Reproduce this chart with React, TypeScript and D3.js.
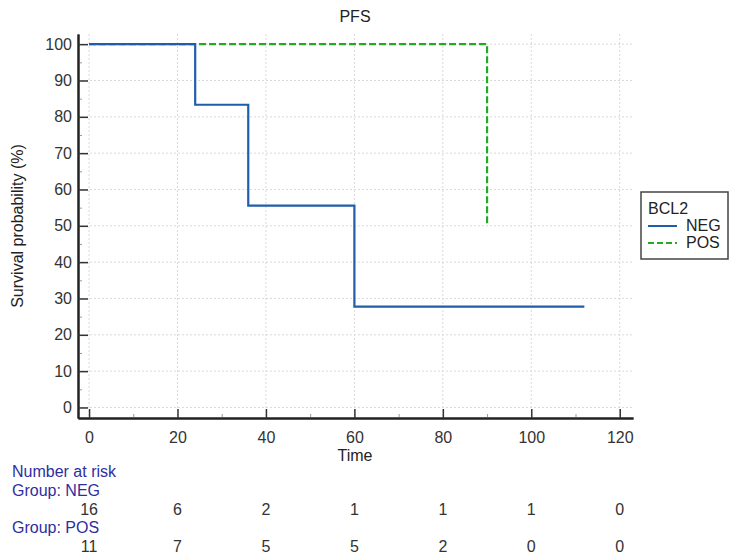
import React from "react";
import * as d3 from "d3";

// survival curves (step points)
const negTimes = [0, 24, 36, 60, 112];
const negSurv = [100, 83.33, 55.56, 27.78, 27.78];
const posTimes = [0, 90, 90];
const posSurv = [100, 100, 50];

// number at risk table
const riskTimes = [0, 20, 40, 60, 80, 100, 120];
const negRisk = [16, 6, 2, 1, 1, 1, 0];
const posRisk = [11, 7, 5, 5, 2, 0, 0];

const xTicks = [0, 20, 40, 60, 80, 100, 120];
const yTicks = [0, 10, 20, 30, 40, 50, 60, 70, 80, 90, 100];

const groups = ["NEG", "POS"];
const colors = ["#1f5ea8", "#22aa22"];

function App() {
  const svgRef = React.useRef<SVGSVGElement>(null);

  React.useEffect(() => {
    const width = 729;
    const height = 558;
    const font = "'Liberation Sans', Arial, sans-serif";
    const fs = 16;
    const svg = d3.select(svgRef.current).attr("width", width).attr("height", height);
    svg.selectAll("*").remove();

    // scales
    const x = d3.scaleLinear().domain([-2.5, 123]).range([78, 633]);
    const y = d3.scaleLinear().domain([-2.9, 102.8]).range([418, 34]);

    // grid
    const grid = svg.append("g").attr("stroke", "#d9d9d9").attr("stroke-dasharray", "2,2");
    grid
      .selectAll("line.v")
      .data(xTicks)
      .enter()
      .append("line")
      .attr("x1", (d) => x(d))
      .attr("x2", (d) => x(d))
      .attr("y1", y.range()[1])
      .attr("y2", y.range()[0]);
    grid
      .selectAll("line.h")
      .data(yTicks)
      .enter()
      .append("line")
      .attr("x1", x.range()[0])
      .attr("x2", x.range()[1])
      .attr("y1", (d) => y(d))
      .attr("y2", (d) => y(d));

    // axes (ticks point inward)
    const xAxis = d3.axisBottom(x).tickValues(xTicks).tickSize(-9).tickPadding(14).tickSizeOuter(0);
    const xMinor = d3.axisBottom(x).tickValues(d3.range(10, 120, 20)).tickSize(-4).tickFormat(() => "").tickSizeOuter(0);
    const yAxis = d3.axisLeft(y).tickValues(yTicks).tickSize(-10).tickPadding(6).tickSizeOuter(0);
    const yMinor = d3.axisLeft(y).tickValues(d3.range(5, 100, 10)).tickSize(-4).tickFormat(() => "").tickSizeOuter(0);

    const styleAxis = (g: any) => {
      g.select(".domain").attr("stroke", "#222").attr("stroke-width", 2);
      g.selectAll(".tick line").attr("stroke", "#333").attr("stroke-width", 1.5);
      g.selectAll(".tick text").attr("font-size", fs).attr("font-family", font).attr("fill", "#333");
    };
    svg.append("g").attr("transform", "translate(0,418)").call(xMinor).call(styleAxis)
      .selectAll(".tick line").attr("stroke", "#999").attr("stroke-width", 1);
    svg.append("g").attr("transform", "translate(78,0)").call(yMinor).call(styleAxis)
      .selectAll(".tick line").attr("stroke", "#999").attr("stroke-width", 1);
    svg.append("g").attr("transform", "translate(0,418)").call(xAxis).call(styleAxis);
    svg.append("g").attr("transform", "translate(78,0)").call(yAxis).call(styleAxis);

    // curves
    const line = d3
      .line<[number, number]>()
      .x((d) => x(d[0]))
      .y((d) => y(d[1]))
      .curve(d3.curveStepAfter);
    const negPts = negTimes.map((t, i) => [t, negSurv[i]] as [number, number]);
    const posPts = posTimes.map((t, i) => [t, posSurv[i]] as [number, number]);
    svg.append("path").datum(posPts).attr("d", line).attr("fill", "none")
      .attr("stroke", colors[1]).attr("stroke-width", 2.2).attr("stroke-dasharray", "7,3");
    svg.append("path").datum(negPts).attr("d", line).attr("fill", "none")
      .attr("stroke", colors[0]).attr("stroke-width", 2.2);

    // titles
    svg.append("text").attr("x", 355).attr("y", 22).attr("text-anchor", "middle")
      .attr("font-size", fs).attr("font-family", font).attr("fill", "#222").text("PFS");
    svg.append("text").attr("x", 355).attr("y", 461).attr("text-anchor", "middle")
      .attr("font-size", fs).attr("font-family", font).attr("fill", "#222").text("Time");
    svg.append("text").attr("transform", "translate(23,226) rotate(-90)").attr("text-anchor", "middle")
      .attr("font-size", fs).attr("font-family", font).attr("fill", "#222").text("Survival probability (%)");

    // legend
    const lg = svg.append("g");
    lg.append("rect").attr("x", 641).attr("y", 192).attr("width", 87).attr("height", 67)
      .attr("fill", "white").attr("stroke", "#444").attr("stroke-width", 1.5);
    lg.append("text").attr("x", 648).attr("y", 214).attr("font-size", fs).attr("font-family", font)
      .attr("fill", "#222").text("BCL2");
    groups.forEach((g, i) => {
      const ly = 226 + i * 17;
      lg.append("line").attr("x1", 648).attr("x2", 677).attr("y1", ly).attr("y2", ly)
        .attr("stroke", colors[i]).attr("stroke-width", 2)
        .attr("stroke-dasharray", i === 1 ? "6,3" : null);
      lg.append("text").attr("x", 686).attr("y", ly + 5).attr("font-size", fs)
        .attr("font-family", font).attr("fill", "#222").text(g);
    });

    // number at risk
    const blue = "#2e2ea0";
    const rk = svg.append("g").attr("font-family", font).attr("font-size", fs);
    rk.append("text").attr("x", 12).attr("y", 477).attr("fill", blue).text("Number at risk");
    rk.append("text").attr("x", 12).attr("y", 496).attr("fill", blue).text("Group: NEG");
    rk.append("text").attr("x", 12).attr("y", 533).attr("fill", blue).text("Group: POS");
    [negRisk, posRisk].forEach((row, r) => {
      rk.selectAll(null)
        .data(row)
        .enter()
        .append("text")
        .attr("x", (_d, i) => x(riskTimes[i]))
        .attr("y", r === 0 ? 515 : 552)
        .attr("text-anchor", "middle")
        .attr("fill", "#333")
        .text((d) => d);
    });
  }, []);

  return (
    <>
      <svg ref={svgRef} style={{ position: "absolute", left: 0, top: 0, display: "block" }} />
    </>
  );
}

export default App;
